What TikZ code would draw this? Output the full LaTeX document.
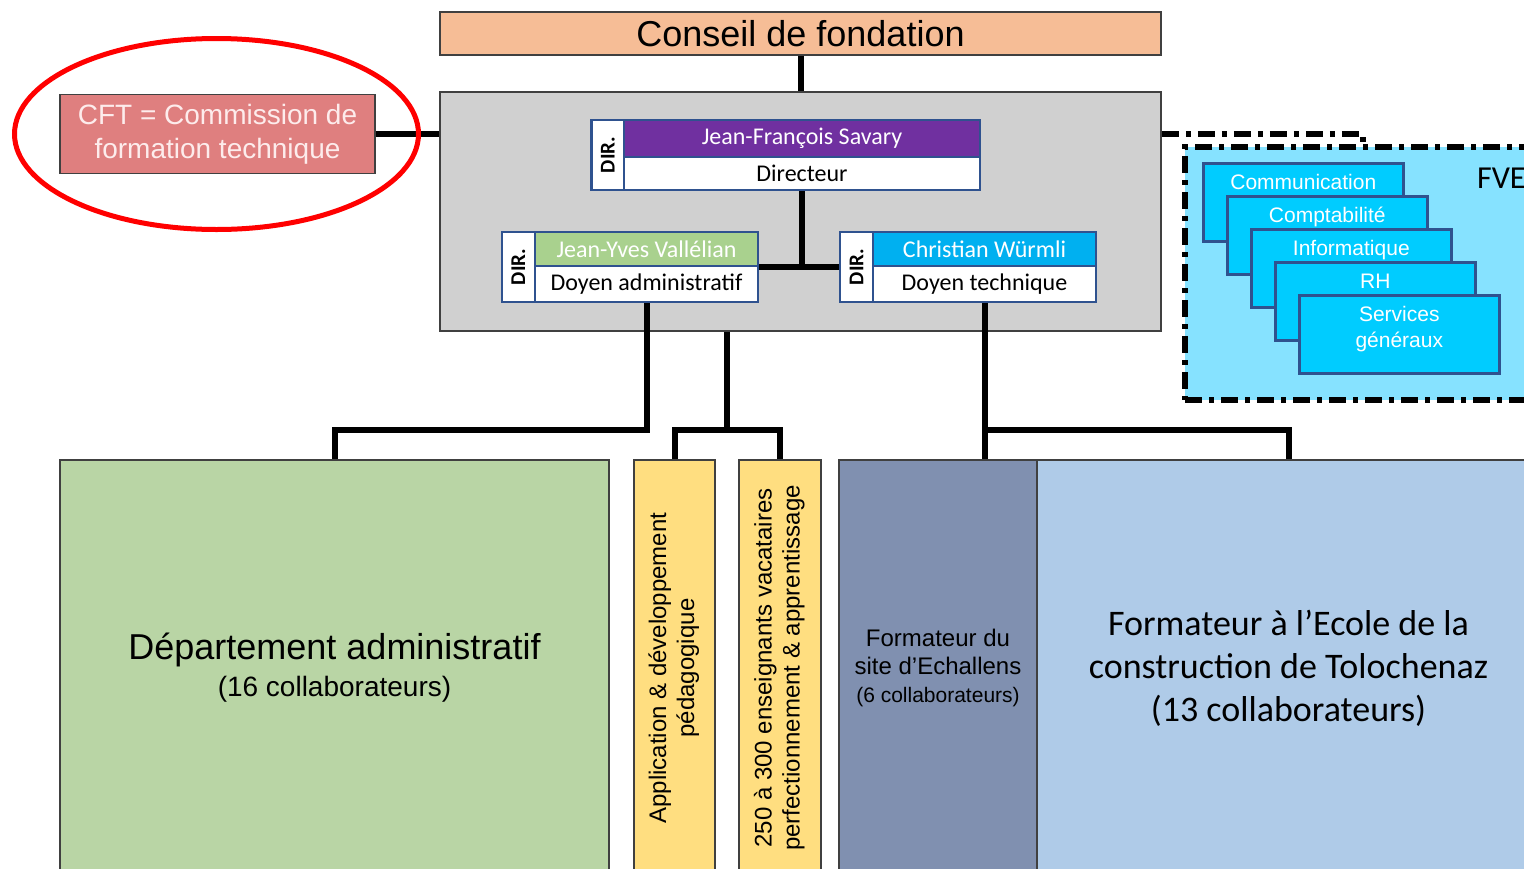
\documentclass[tikz,border=0pt]{standalone}
\usepackage{fontspec}
\setmainfont{Liberation Sans}
\newfontfamily\calibri{Carlito}
\usetikzlibrary{shapes.geometric}

\definecolor{peach}{RGB}{246,189,150}
\definecolor{dirgray}{RGB}{208,208,208}
\definecolor{cftred}{RGB}{223,127,127}
\definecolor{cfttext}{RGB}{253,236,236}
\definecolor{dirblue}{RGB}{47,82,143}
\definecolor{dirpurple}{RGB}{112,48,160}
\definecolor{dirgreen}{RGB}{169,209,142}
\definecolor{dircyan}{RGB}{0,176,240}
\definecolor{admgreen}{RGB}{185,213,165}
\definecolor{pedyellow}{RGB}{255,222,128}
\definecolor{slate}{RGB}{128,144,176}
\definecolor{tololight}{RGB}{175,203,232}
\definecolor{fvecyan}{RGB}{134,226,255}
\definecolor{svcblue}{RGB}{0,204,255}

\newcommand{\dirtag}{\rotatebox{90}{\calibri\bfseries\fontsize{10.5}{11}\selectfont DIR.}}
\newcommand{\svc}[1]{\parbox[c][39pt][t]{100pt}{\centering\rule{0pt}{13pt}#1}}
\newcommand{\turned}[1]{\rotatebox{90}{\begin{tabular}{@{}c@{}}#1\end{tabular}}}

\tikzset{
  box/.style={draw=black!75, line width=0.8pt, inner sep=0pt},
  link/.style={line width=3pt},
  dashlink/.style={line width=3pt, dash pattern=on 8.5pt off 3.5pt on 2.5pt off 3.5pt},
  tabbox/.style={draw=dirblue, line width=1.3pt, fill=white, minimum width=16.5pt,
    minimum height=35pt, inner sep=0pt},
  namebox/.style={draw=dirblue, line width=1.3pt, minimum width=111.5pt,
    minimum height=17pt, inner sep=0pt, text=white, font=\calibri\fontsize{12}{14}\selectfont},
  rolebox/.style={namebox, fill=white, text=black, minimum height=18pt},
  svcbox/.style={draw=dirblue, line width=1.3pt, fill=svcblue, anchor=north west,
    inner sep=0pt, text=white, font=\fontsize{10.5}{13}\selectfont},
}

\begin{document}
\begin{tikzpicture}[x=0.5pt, y=-0.5pt]
  \useasboundingbox (0,0) rectangle (1524,868);
  \clip (0,0) rectangle (1524,868);

  % Conseil et direction
  \node (conseil) [box, fill=peach, minimum width=360.5pt, minimum height=21.5pt,
    font=\fontsize{18}{20}\selectfont] at (800.5,33.5) {Conseil de fondation};
  \node (direction) [box, fill=dirgray, minimum width=360.5pt,
    minimum height=119.5pt] at (800.5,211.5) {};
  \draw [link] (conseil) to (direction);

  % CFT
  \node (cft) [box, fill=cftred, text=cfttext, minimum width=157.5pt,
    minimum height=39.5pt, align=center, font=\fontsize{14}{17}\selectfont]
    at (217.5,134) {CFT = Commission de\\formation technique};
  \draw [link] (cft.east) to (cft.east -| direction.west);
  \node (cftring) [draw=red, line width=2.5pt, ellipse, minimum width=202pt,
    minimum height=95.5pt, inner sep=0pt] at (216.5,134) {};

  % FVE
  \node (fve) [draw, dashlink, fill=fvecyan, minimum width=177.5pt,
    minimum height=126.5pt, inner sep=0pt] at (1362.5,273.5) {};
  \node (fvelabel) [anchor=west, font=\calibri\fontsize{16}{18}\selectfont]
    at (1470,178) {FVE};
  \draw [dashlink] (direction.east |- cft.east) -| (fve.north);
  \foreach \n/\lbl [count=\i from 0] in {com/Communication, compta/Comptabilité,
      info/Informatique, rh/RH, sg/{Services\\généraux}}
    \node (\n) [svcbox] at (1202+24*\i,162+33*\i) {\svc{\lbl}};

  % Direction
  \node (dirtab) [tabbox] at (608,155) {\dirtag};
  \node (jfs) [namebox, fill=dirpurple, minimum width=178pt, minimum height=18.5pt]
    at (802,138.5) {Jean-François Savary};
  \node (jfsrole) [rolebox, minimum width=178pt, minimum height=16.5pt]
    at (802,173.5) {Directeur};
  \node (jyvtab) [tabbox] at (518.5,267) {\dirtag};
  \node (jyv) [namebox, fill=dirgreen] at (646.5,249) {Jean-Yves Vallélian};
  \node (jyvrole) [rolebox] at (646.5,284) {Doyen administratif};
  \node (cwtab) [tabbox] at (856.5,267) {\dirtag};
  \node (cw) [namebox, fill=dircyan] at (984.5,249) {Christian Würmli};
  \node (cwrole) [rolebox] at (984.5,284) {Doyen technique};
  \draw [link] (jfsrole) to (jfsrole |- jyv.south);
  \draw [link] (jyv.south east) to (jyv.south east -| cwtab.west);

  % Departements
  \node (admin) [box, fill=admgreen, minimum width=274.5pt, minimum height=208pt,
    align=center, font=\fontsize{18}{18.5}\selectfont] at (334.5,668)
    {Département administratif\\{\fontsize{14}{18.5}\selectfont (16 collaborateurs)}};
  \node (appdev) [box, fill=pedyellow, minimum width=40.5pt, minimum height=208pt,
    font=\fontsize{12}{14}\selectfont] at (674.5,668)
    {\turned{Application \& développement\\pédagogique}};
  \node (vacat) [box, fill=pedyellow, minimum width=41pt, minimum height=208pt,
    font=\fontsize{12}{14}\selectfont] at (780,668)
    {\turned{250 à 300 enseignants vacataires\\perfectionnement \& apprentissage}};
  \node (echal) [box, fill=slate, minimum width=99pt, minimum height=208pt,
    align=center, font=\fontsize{12}{14}\selectfont] at (938,668)
    {Formateur du\\site d'Echallens\\{\fontsize{10.5}{14}\selectfont (6 collaborateurs)}};
  \node (tolo) [box, fill=tololight, minimum width=251.5pt, minimum height=208pt,
    align=center, font=\calibri\fontsize{18}{21.5}\selectfont] at (1288.5,668)
    {Formateur à l’Ecole de la\\construction de Tolochenaz\\(13 collaborateurs)};

  % Liens
  \coordinate (bus) at (0,430);
  \coordinate (mid) at (726.5,430);
  \draw [link] (jyvrole.south) |- (bus -| admin.north) -- (admin.north);
  \draw [link] (mid |- direction.south) -- (mid);
  \draw [link] (appdev.north) |- (mid) -| (vacat.north);
  \draw [link] (cwrole.south) -- (cwrole.south |- echal.north);
  \draw [link] (bus -| cwrole.south) -| (tolo.north);
\end{tikzpicture}
\end{document}
